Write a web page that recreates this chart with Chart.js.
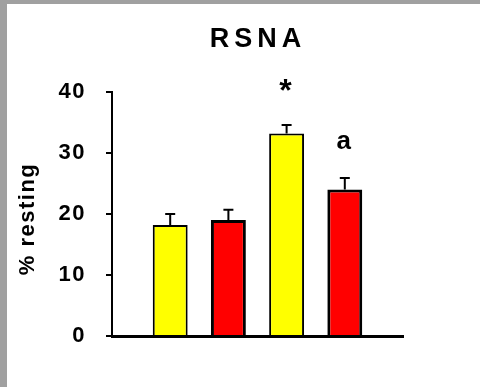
<!DOCTYPE html>
<html>
<head>
<meta charset="utf-8">
<script src="https://cdn.jsdelivr.net/npm/chart.js@4"></script>
<style>
  html, body { margin: 0; padding: 0; background: #a0a0a0; }
  #wrap { position: absolute; left: 7px; top: 4px; width: 473px; height: 383px; background: #fff; }
</style>
</head>
<body>
<div id="wrap"><canvas id="rsnaChart" width="473" height="383"></canvas></div>
<script>
const groups = ["1", "2", "3", "4"];
const means = [18.2, 19.0, 33.2, 24.0];
const sems = [1.8, 1.7, 1.4, 1.9];
const marks = ["", "", "*", "a"];
const barColors = ["#ffff00", "#ff0000", "#ffff00", "#ff0000"];
const yTicks = [0, 10, 20, 30, 40];

const FONT = "'Liberation Sans', Arial, sans-serif";

// empty slot at each end so the bars sit one step in from the axis ends
const labels = ["", ...groups, ""];
const values = [null, ...means, null];

const extrasPlugin = {
  id: "extras",
  beforeDraw(chart) {
    chart.ctx.letterSpacing = "1.5px";
  },
  afterDatasetsDraw(chart) {
    const ctx = chart.ctx;
    const y = chart.scales.y;
    const bars = chart.getDatasetMeta(0).data;
    ctx.save();
    ctx.strokeStyle = "#000";
    ctx.lineWidth = 2;
    ctx.fillStyle = "#000";
    ctx.textAlign = "center";
    ctx.textBaseline = "middle";
    means.forEach((m, i) => {
      const el = bars[i + 1];
      const top = y.getPixelForValue(m);
      const errTop = y.getPixelForValue(m + sems[i]);
      ctx.beginPath();
      ctx.moveTo(el.x, top);
      ctx.lineTo(el.x, errTop);
      ctx.moveTo(el.x - 5, errTop);
      ctx.lineTo(el.x + 5, errTop);
      ctx.stroke();
      if (marks[i]) {
        ctx.letterSpacing = "0px";
        ctx.font = (marks[i] === "*" ? "bold 32px " : "bold 26px ") + FONT;
        ctx.fillText(marks[i], el.x - 1, errTop - (marks[i] === "*" ? 33 : 36));
      }
    });
    // title
    ctx.letterSpacing = "5px";
    ctx.font = "bold 27px " + FONT;
    ctx.fillText("RSNA", 251, 36);
    // y axis title
    ctx.letterSpacing = "1.5px";
    ctx.font = "bold 22px " + FONT;
    ctx.translate(21, 215);
    ctx.rotate(-Math.PI / 2);
    ctx.fillText("% resting", 0, 0);
    ctx.restore();
  }
};

new Chart(document.getElementById("rsnaChart"), {
  type: "bar",
  data: {
    labels,
    datasets: [{
      data: values,
      backgroundColor: ["#fff", ...barColors, "#fff"],
      borderColor: "#000",
      borderWidth: [0, 2, 3, 2, 3, 0],
      barPercentage: 0.6,
      categoryPercentage: 1
    }]
  },
  options: {
    responsive: false,
    animation: false,
    layout: { padding: { top: 88, right: 77, bottom: 0, left: 0 } },
    plugins: {
      legend: { display: false },
      tooltip: { enabled: false }
    },
    scales: {
      x: {
        offset: false,
        ticks: { display: false },
        grid: { display: false },
        border: { display: true, color: "#000", width: 3 },
        afterFit(scale) { scale.height = 51; }
      },
      y: {
        min: 0,
        max: 40,
        afterBuildTicks(scale) { scale.ticks = yTicks.map(v => ({ value: v })); },
        ticks: {
          color: "#000",
          padding: 20,
          font: { family: FONT, size: 22, weight: "bold" }
        },
        grid: { drawOnChartArea: false, tickLength: 6, color: "#000", lineWidth: 2 },
        border: { display: true, color: "#000", width: 2 },
        afterFit(scale) { scale.width = 105; }
      }
    }
  },
  plugins: [extrasPlugin]
});
</script>
</body>
</html>
